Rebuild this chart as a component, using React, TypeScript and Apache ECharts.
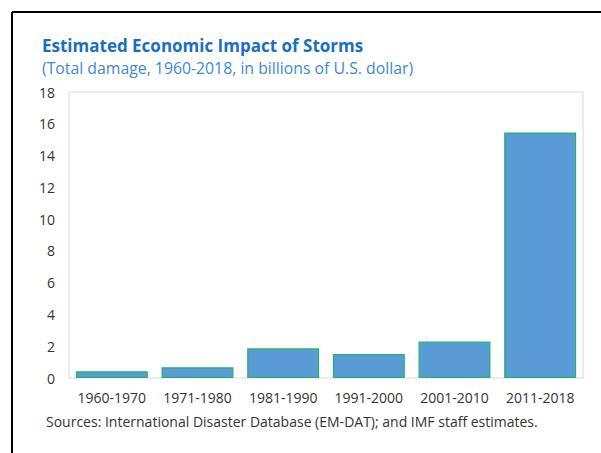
import React, { useEffect, useRef } from "react";
import * as echarts from "echarts";

const categories = ["1960-1970", "1971-1980", "1981-1990", "1991-2000", "2001-2010", "2011-2018"];
const damage = [0.42, 0.67, 1.87, 1.51, 2.29, 15.45];
const titleText = "Estimated Economic Impact of Storms";
const subtitleText = "(Total damage, 1960-2018, in billions of U.S. dollar)";
const sourceText = "Sources: International Disaster Database (EM-DAT); and IMF staff estimates.";

const FONT = "'Open Sans', 'Noto Sans', sans-serif";

export default function App() {
  const ref = useRef<HTMLDivElement>(null);
  useEffect(() => {
    if (!ref.current) return;
    const chart = echarts.init(ref.current, null, { renderer: "svg" });
    chart.setOption({
      animation: false,
      backgroundColor: "#ffffff",
      textStyle: { fontFamily: FONT },
      grid: {
        left: 69,
        top: 92,
        right: 18,
        bottom: 75,
        show: true,
        borderColor: "#d9d9d9",
        borderWidth: 1,
        backgroundColor: "transparent",
      },
      xAxis: {
        type: "category",
        data: categories,
        axisLine: { show: false },
        axisTick: { show: false },
        axisLabel: { color: "#333333", fontSize: 14, margin: 12, fontFamily: FONT, interval: 0 },
      },
      yAxis: {
        type: "value",
        min: 0,
        max: 18,
        interval: 2,
        axisLine: { show: false },
        axisTick: { show: false },
        splitLine: { show: false },
        axisLabel: { color: "#333333", fontSize: 14, margin: 14, fontFamily: FONT },
      },
      series: [
        {
          type: "bar",
          data: damage,
          barCategoryGap: "16%",
          itemStyle: { color: "#5b9bd5", borderColor: "#1fb46a", borderWidth: 1.2 },
        },
      ],
      graphic: [
        { type: "line", shape: { x1: 12, y1: 12, x2: 601, y2: 12 }, style: { stroke: "#000", lineWidth: 2 } },
        { type: "line", shape: { x1: 12, y1: 12, x2: 12, y2: 453 }, style: { stroke: "#000", lineWidth: 2 } },
        {
          type: "text",
          left: 42,
          top: 37,
          style: { text: titleText, fill: "#1a6fc0", font: `bold 17px ${FONT}` },
        },
        {
          type: "text",
          left: 42,
          top: 60,
          style: { text: subtitleText, fill: "#3b8ad3", font: `15.8px ${FONT}` },
        },
        {
          type: "text",
          left: 46,
          top: 414,
          style: { text: sourceText, fill: "#333333", font: `14px ${FONT}` },
        },
      ],
    });
    return () => chart.dispose();
  }, []);
  return (
    <div
      ref={ref}
      style={{ position: "fixed", left: 0, top: 0, width: 601, height: 453 }}
    />
  );
}
